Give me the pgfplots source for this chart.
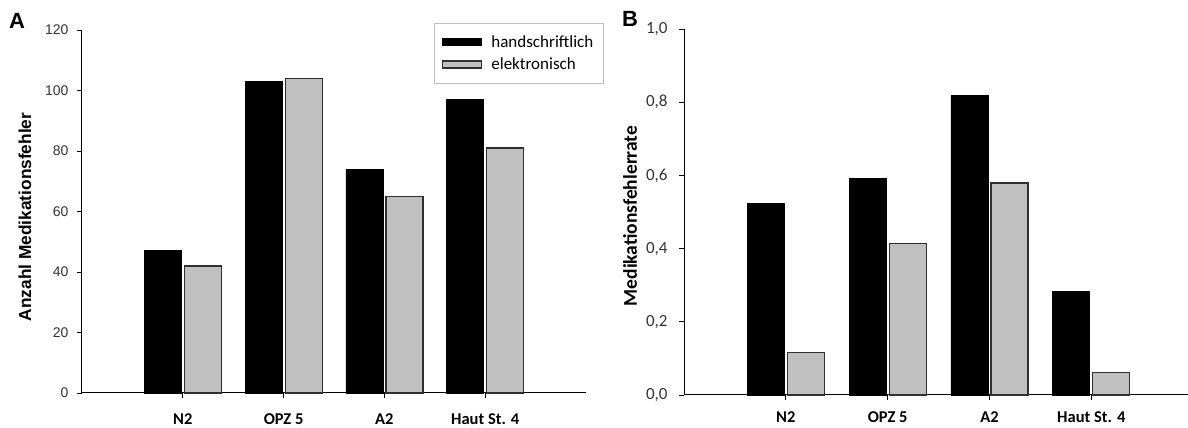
\documentclass[border=0pt]{standalone}
\usepackage{fontspec}
\usepackage{pgfplots}
\pgfplotsset{compat=1.18}
\newfontfamily\arial{Liberation Sans}
\newfontfamily\calibri{Carlito}
\definecolor{barGray}{HTML}{C0C0C0}
\definecolor{edgeGray}{HTML}{303030}
\definecolor{tickGray}{HTML}{333333}

\pgfplotsset{
  common/.style={
    scale only axis,
    axis lines=left,
    axis line style={-, line width=1pt, black},
    xmin=-1, ymin=0,
    xtick={0,1,2,3},
    xticklabels={N2,OPZ 5,A2,Haut St. 4},
    tick align=outside,
    major tick length=5pt,
    tick style={black, line width=0.8pt},
    ybar=3pt, bar width=37pt,
    clip=false,
  },
  blackbar/.style={fill=black, draw=black, line width=0.8pt,
    legend image code/.code={\draw[fill=black, draw=black, line width=0.8pt] (0pt,-3.5pt) rectangle (39pt,3.5pt); \path (46pt,0pt);}},
  graybar/.style={fill=barGray, draw=edgeGray, line width=1.2pt,
    legend image code/.code={\draw[fill=barGray, draw=edgeGray, line width=1.2pt] (0pt,-3.5pt) rectangle (39pt,3.5pt); \path (46pt,0pt);}},
}

\begin{document}
\begin{tikzpicture}[x=1pt,y=1pt]
\useasboundingbox (0,0) rectangle (1188,428);

\begin{axis}[
  common,
  at={(82pt,35pt)}, anchor=south west,
  width=504pt, height=363pt,
  xmax=4, ymax=120,
  ytick={0,20,40,60,80,100,120},
  yticklabels={0,20,40,60,80,100,120},
  yticklabel style={font=\arial\fontsize{14}{16}\selectfont, text=tickGray, xshift=-5pt},
  xticklabel style={font=\calibri\bfseries\fontsize{16.5}{19}\selectfont, text=black, yshift=-12pt},
  ylabel={Anzahl Medikationsfehler},
  ylabel style={font=\arial\bfseries\fontsize{17.3}{20}\selectfont, at={(axis description cs:-0.113,0.485)}, anchor=center},
  legend style={at={(axis description cs:0.698,1.019)}, anchor=north west,
    draw=black!25, line width=0.8pt, font=\calibri\fontsize{17}{20}\selectfont,
    inner xsep=8pt, inner ysep=10pt, row sep=5pt, cells={anchor=west}},
  legend cell align=left,
]
\addplot[blackbar] coordinates {(0,47) (1,103) (2,74) (3,97)};
\addplot[graybar] coordinates {(0,42) (1,104) (2,65) (3,81)};
\legend{handschriftlich, elektronisch}
\end{axis}

\begin{axis}[
  common,
  at={(684pt,33pt)}, anchor=south west,
  width=504pt, height=366pt,
  xmax=3.95, ymax=1.0,
  ytick={0,0.2,0.4,0.6,0.8,1.0},
  yticklabels={{0,0},{0,2},{0,4},{0,6},{0,8},{1,0}},
  yticklabel style={font=\calibri\fontsize{17}{19}\selectfont, text=tickGray, xshift=-8pt},
  xticklabel style={font=\calibri\bfseries\fontsize{16.5}{19}\selectfont, text=black, inner sep=0.5pt, yshift=-10.5pt},
  ylabel={Medikationsfehlerrate},
  ylabel style={font=\calibri\bfseries\fontsize{19.5}{23}\selectfont, at={(axis description cs:-0.107,0.489)}, anchor=center},
]
\addplot[blackbar] coordinates {(0,0.524) (1,0.591) (2,0.818) (3,0.284)};
\addplot[graybar] coordinates {(0,0.117) (1,0.415) (2,0.579) (3,0.061)};
\end{axis}

\node[font=\arial\bfseries\fontsize{22}{26}\selectfont, anchor=center] at (17,407) {A};
\node[font=\arial\bfseries\fontsize{22}{26}\selectfont, anchor=center] at (630,409.5) {B};
\end{tikzpicture}
\end{document}
